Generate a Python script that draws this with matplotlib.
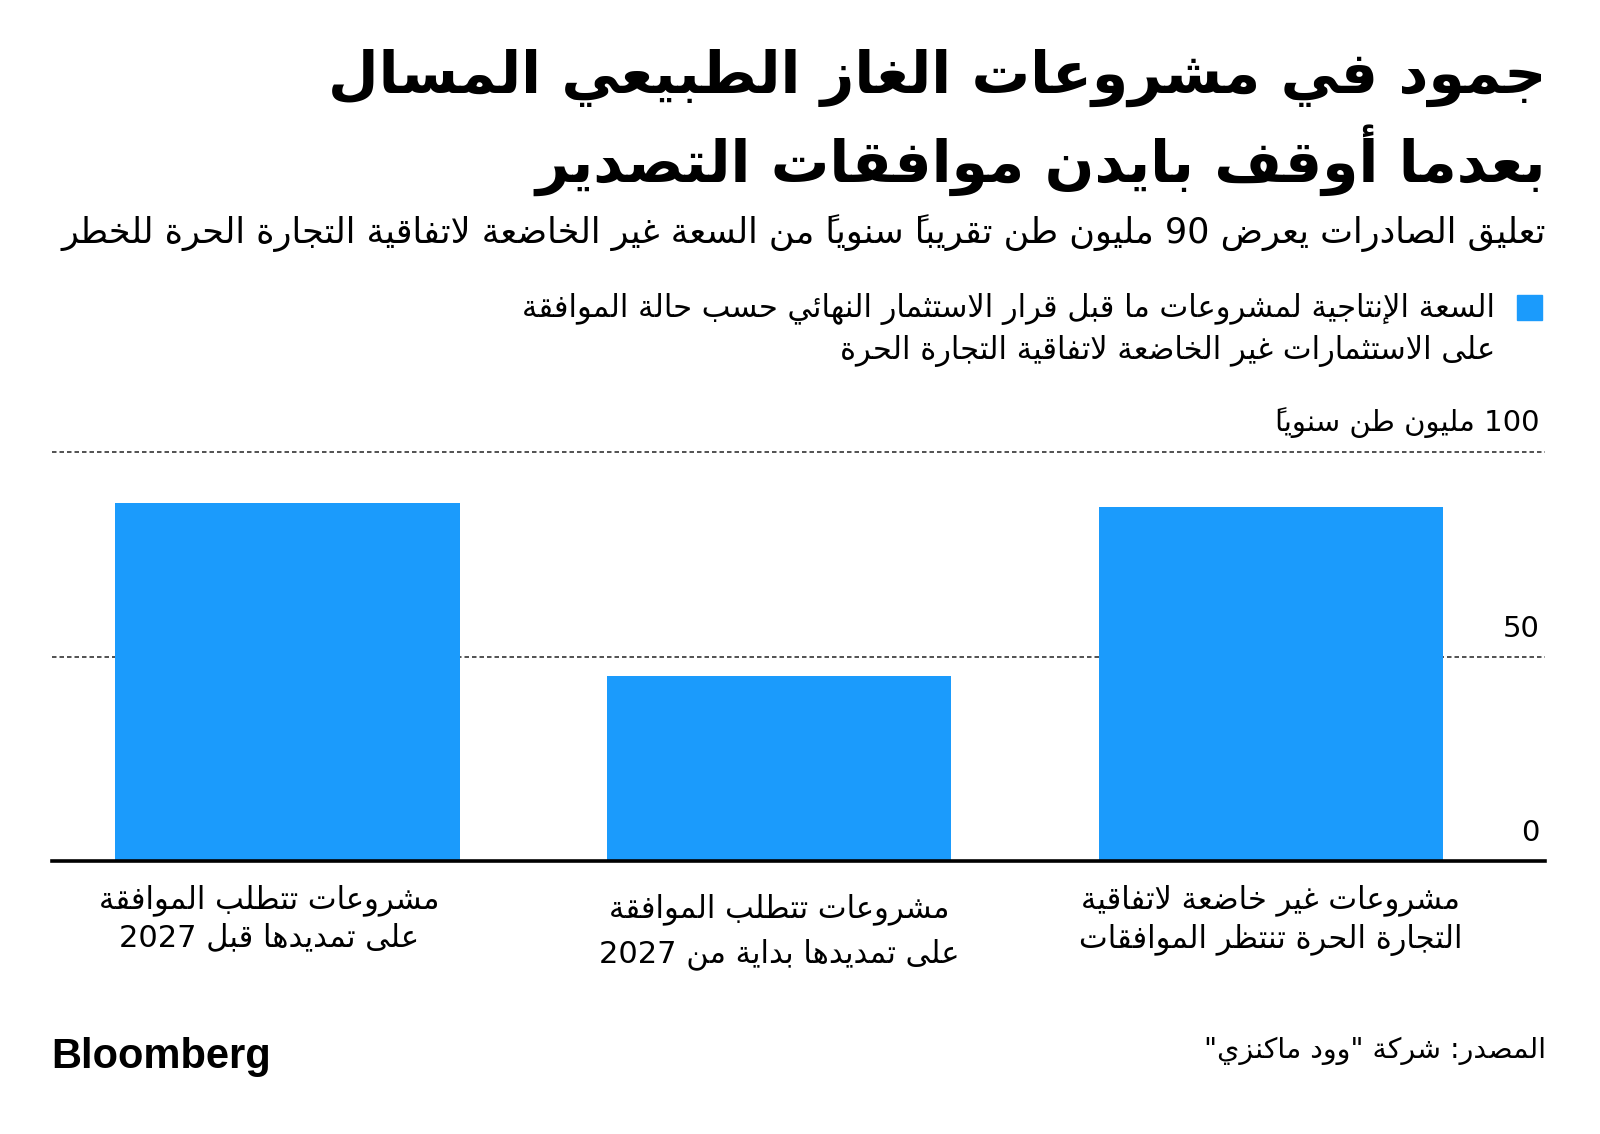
import matplotlib
matplotlib.use('Agg')
import matplotlib.pyplot as plt
from matplotlib.patches import Rectangle
from matplotlib.transforms import ScaledTranslation

# ---- data ----
categories = ['مشروعات تتطلب الموافقة\nعلى تمديدها قبل 2027',
              'مشروعات تتطلب الموافقة\nعلى تمديدها بداية من 2027',
              'مشروعات غير خاضعة لاتفاقية\nالتجارة الحرة تنتظر الموافقات']
capacity = [87.5, 45.2, 86.6]
y_ticks = [0, 50, 100]
y_tick_labels = ['0', '50', '100 مليون طن سنوياً']
title_lines = ['جمود في مشروعات الغاز الطبيعي المسال',
               'بعدما أوقف بايدن موافقات التصدير']
subtitle = 'تعليق الصادرات يعرض 90 مليون طن تقريباً سنوياً من السعة غير الخاضعة لاتفاقية التجارة الحرة للخطر'
legend_label = ('السعة الإنتاجية لمشروعات ما قبل قرار الاستثمار النهائي حسب حالة الموافقة\n'
                'على الاستثمارات غير الخاضعة لاتفاقية التجارة الحرة')
source = 'المصدر: شركة "وود ماكنزي"'

BLUE = '#1b9bfc'
FAM = ['DejaVu Sans']

# ---- minimal arabic shaping (matplotlib has no text shaping) ----
_seq = [('\u0621', 1), ('\u0622', 2), ('\u0623', 2), ('\u0624', 2), ('\u0625', 2),
        ('\u0626', 4), ('\u0627', 2), ('\u0628', 4), ('\u0629', 2), ('\u062A', 4),
        ('\u062B', 4), ('\u062C', 4), ('\u062D', 4), ('\u062E', 4), ('\u062F', 2),
        ('\u0630', 2), ('\u0631', 2), ('\u0632', 2), ('\u0633', 4), ('\u0634', 4),
        ('\u0635', 4), ('\u0636', 4), ('\u0637', 4), ('\u0638', 4), ('\u0639', 4),
        ('\u063A', 4), ('\u0641', 4), ('\u0642', 4), ('\u0643', 4), ('\u0644', 4),
        ('\u0645', 4), ('\u0646', 4), ('\u0647', 4), ('\u0648', 2), ('\u0649', 2),
        ('\u064A', 4)]
FORMS = {}
_c = 0xFE80
for ch, n in _seq:
    FORMS[ch] = [chr(_c + k) for k in range(n)]
    _c += n
LAM_ALEF = {'\u0622': 0xFEF5, '\u0623': 0xFEF7, '\u0625': 0xFEF9, '\u0627': 0xFEFB}


def joins_left(ch):
    return ch in FORMS and len(FORMS[ch]) == 4


def joins_right(ch):
    return ch in FORMS and len(FORMS[ch]) >= 2


def shape_line(text):
    clusters = []
    for ch in text:
        if '\u064B' <= ch <= '\u0652' and clusters:
            clusters[-1][1] += ch
        else:
            clusters.append([ch, ''])
    glyphs = []
    k = 0
    while k < len(clusters):
        ch, mk = clusters[k]
        if ch not in FORMS:
            glyphs.append((mk + ch, ch.isascii() and ch.isalnum()))
            k += 1
            continue
        prv = clusters[k - 1][0] if k > 0 else None
        nxt = clusters[k + 1][0] if k + 1 < len(clusters) else None
        p = prv is not None and joins_left(prv) and joins_right(ch)
        if ch == '\u0644' and nxt in LAM_ALEF:
            g = chr(LAM_ALEF[nxt] + (1 if p else 0))
            glyphs.append((mk + clusters[k + 1][1] + g, False))
            k += 2
            continue
        nx = joins_left(ch) and nxt is not None and joins_right(nxt)
        f = FORMS[ch]
        if p and nx:
            g = f[3]
        elif p:
            g = f[1]
        elif nx:
            g = f[2]
        else:
            g = f[0]
        # mark placed before its base: the font draws it over the next glyph
        glyphs.append((mk + g, False))
        k += 1
    # visual order: reverse, keeping latin/digit runs left-to-right
    runs = []
    for g, ltr in glyphs:
        if ltr and runs and runs[-1][1]:
            runs[-1][0].append(g)
        else:
            runs.append(([g], ltr))
    out = []
    for gs, ltr in reversed(runs):
        out.extend(gs if ltr else reversed(gs))
    return ''.join(out)


def ar(text):
    return '\n'.join(shape_line(t) for t in text.split('\n'))


def fx(px):
    return px / 1600


def fy(py):
    return 1 - py / 1134


# ---- figure ----
fig = plt.figure(figsize=(16, 11.34), dpi=100)
fig.patch.set_facecolor('white')

ax = fig.add_axes([fx(52), fy(861), fx(1545 - 52), (861 - 452) / 1134])
x = range(len(capacity))
ax.bar(x, capacity, width=0.70, color=BLUE, zorder=2)
ax.set_xlim(-0.479, 2.558)
ax.set_ylim(0, 100)

for t in y_ticks[1:]:
    ax.axhline(t, color='#333333', lw=1.2, ls=(0, (2.7, 1.8)), zorder=1, clip_on=False)
ax.axhline(0, color='black', lw=2.6, zorder=3, clip_on=False)

for s in ax.spines.values():
    s.set_visible(False)

ax.set_xticks(list(x))
ax.set_xticklabels([ar(c) for c in categories], family=FAM, fontsize=22,
                   linespacing=1.3)
ax.tick_params(axis='x', length=0, pad=17)

ax.yaxis.tick_right()
ax.set_yticks(y_ticks)
ax.set_yticklabels([ar(t) for t in y_tick_labels], family=FAM, fontsize=21)
ax.tick_params(axis='y', length=0, pad=-4)
for lab in ax.get_yticklabels():
    lab.set_ha('right')
    lab.set_va('bottom')
    lab.set_transform(lab.get_transform() + ScaledTranslation(0, 10 / 72, fig.dpi_scale_trans))
xl = ax.get_xticklabels()
xl[0].set_transform(xl[0].get_transform() + ScaledTranslation(-13 / 72, 0, fig.dpi_scale_trans))
xl[1].set_transform(xl[1].get_transform() + ScaledTranslation(0, -6 / 72, fig.dpi_scale_trans))
xl[1].set_linespacing(1.55)

# ---- texts ----
fig.text(fx(1546), fy(78), ar(title_lines[0]), ha='right', va='center',
         family=FAM, fontsize=42, fontweight='bold')
fig.text(fx(1546), fy(160), ar(title_lines[1]), ha='right', va='center',
         family=FAM, fontsize=42, fontweight='bold')
fig.text(fx(1546), fy(233), ar(subtitle), ha='right', va='center',
         family=FAM, fontsize=25.2)

fig.patches.append(Rectangle((fx(1517), fy(320)), fx(25), 25 / 1134,
                             transform=fig.transFigure, color=BLUE))
fig.text(fx(1495), fy(330), ar(legend_label), ha='right', va='center',
         multialignment='right', family=FAM, fontsize=22, linespacing=1.45)

fig.text(fx(51), fy(1057), 'Bloomberg', ha='left', va='center',
         family=['Liberation Sans'], fontsize=30, fontweight='bold')
fig.text(fx(1546), fy(1051), ar(source), ha='right', va='center',
         family=FAM, fontsize=20.5)

fig.savefig('out.png', dpi=100, facecolor='white')
